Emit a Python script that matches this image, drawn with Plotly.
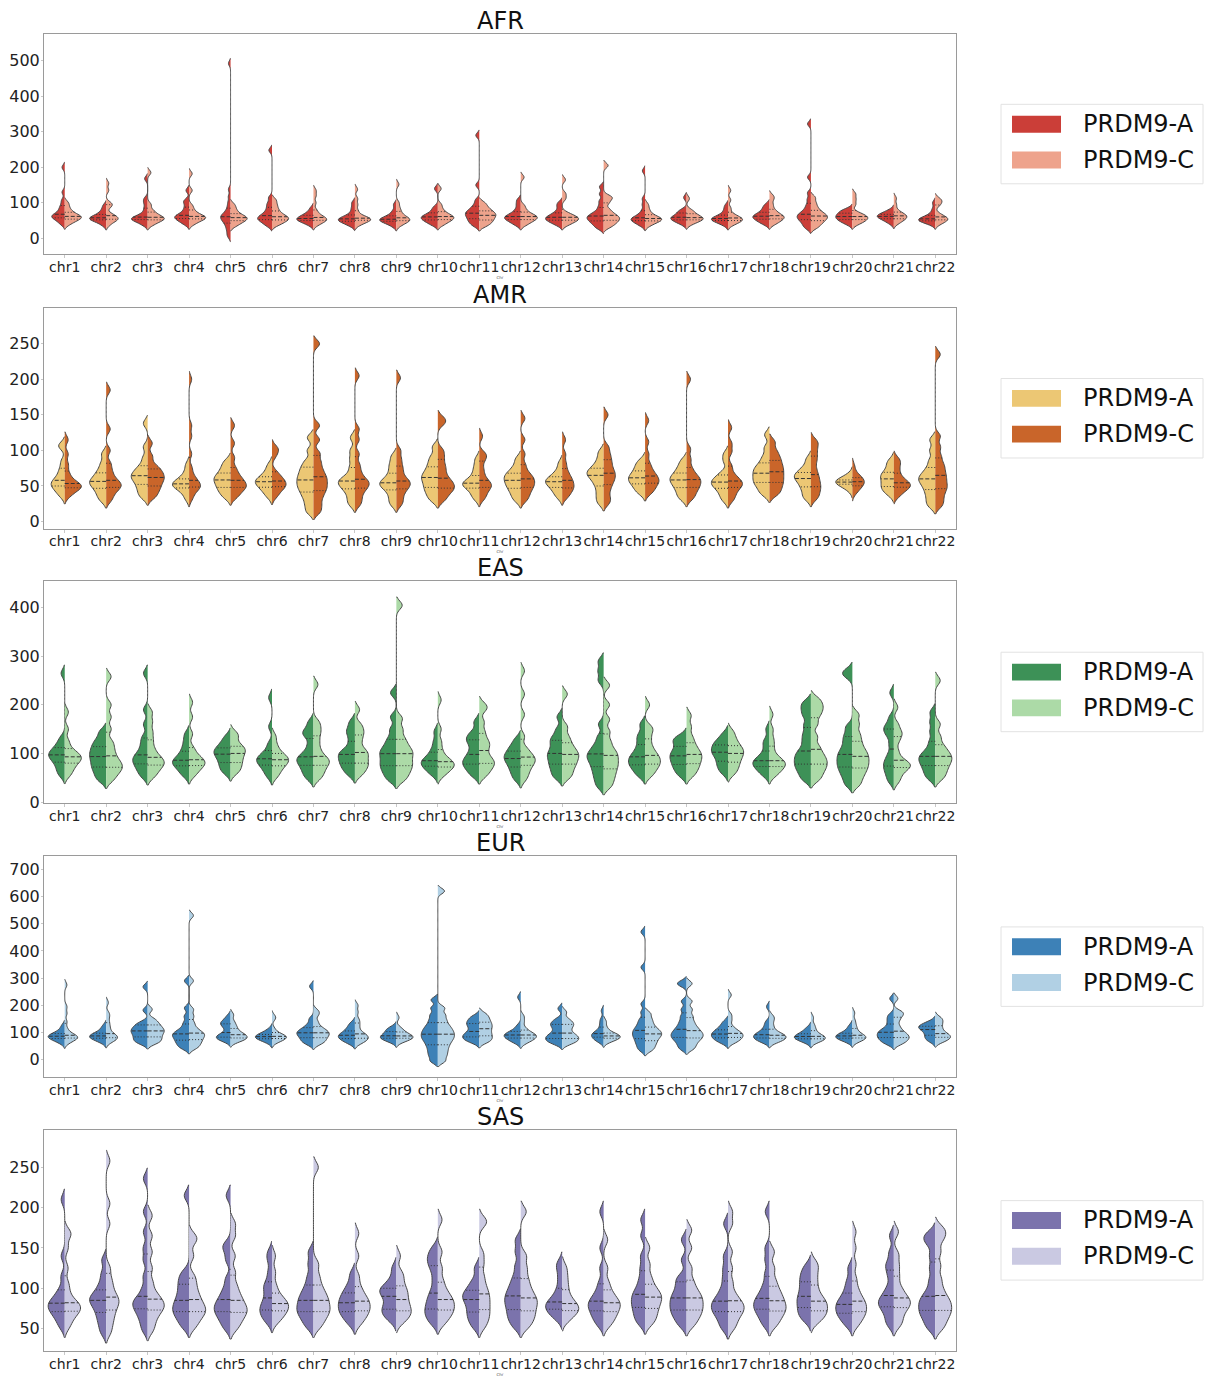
import numpy as np
import plotly.graph_objects as go
from plotly.subplots import make_subplots

chromosomes = ["chr1", "chr2", "chr3", "chr4", "chr5", "chr6", "chr7", "chr8", "chr9", "chr10", "chr11",
               "chr12", "chr13", "chr14", "chr15", "chr16", "chr17", "chr18", "chr19", "chr20", "chr21", "chr22"]
alleles = ["PRDM9-A", "PRDM9-C"]
populations = ["AFR", "AMR", "EAS", "EUR", "SAS"]

# ---------------- values (one list of samples per half-violin) ----------------
AFR_A = [
    [40, 48, 54, 57, 61, 64, 66, 70, 78, 85, 95, 108, 130, 200],
    [38, 46, 50, 53, 55, 57, 59, 62, 66, 72, 80, 92],
    [38, 45, 50, 53, 55, 57, 60, 64, 72, 85, 100, 112, 168],
    [40, 47, 52, 56, 59, 62, 65, 70, 78, 88, 100, 108, 135],
    [5, 15, 25, 33, 40, 46, 50, 54, 58, 61, 64, 68, 73, 80, 90, 102, 118, 138, 492],
    [35, 42, 48, 52, 55, 58, 62, 66, 72, 80, 90, 100, 115, 248],
    [38, 44, 48, 51, 53, 55, 57, 60, 64, 68, 74, 85],
    [36, 42, 46, 49, 52, 54, 56, 59, 64, 72, 85, 100],
    [35, 42, 46, 49, 51, 53, 55, 58, 62, 68, 78, 95],
    [38, 44, 49, 53, 56, 59, 62, 65, 70, 78, 88, 140],
    [35, 42, 48, 53, 58, 63, 67, 71, 75, 80, 86, 95, 108, 150, 290],
    [38, 45, 50, 54, 57, 60, 63, 67, 73, 82, 95, 108],
    [38, 44, 49, 52, 55, 58, 61, 65, 70, 78, 90, 100],
    [28, 36, 43, 48, 53, 57, 61, 65, 70, 78, 90, 105, 125, 145],
    [36, 42, 47, 50, 53, 55, 58, 62, 68, 78, 95, 112, 190],
    [40, 46, 50, 53, 56, 58, 61, 64, 70, 76, 80, 115],
    [38, 44, 48, 51, 53, 55, 57, 60, 64, 70, 80, 92],
    [40, 46, 51, 55, 58, 61, 64, 67, 72, 78, 86, 95],
    [28, 36, 43, 49, 54, 58, 62, 66, 70, 76, 84, 95, 110, 128, 172, 322],
    [40, 46, 50, 54, 57, 60, 63, 66, 70, 74, 78, 82],
    [42, 48, 53, 56, 59, 61, 63, 65, 67, 70, 74, 80],
    [40, 45, 48, 50, 52, 54, 56, 59, 63, 70, 82, 100],
]
AFR_C = [
    [40, 47, 52, 55, 58, 61, 63, 66, 72, 78, 88, 100],
    [38, 47, 51, 54, 57, 60, 64, 70, 88, 95, 100, 135, 155],
    [38, 45, 50, 53, 56, 58, 61, 66, 72, 80, 95, 185],
    [40, 47, 52, 55, 58, 60, 62, 66, 72, 80, 92, 135, 182],
    [35, 42, 47, 51, 54, 57, 60, 63, 68, 75, 84, 95],
    [38, 44, 49, 53, 56, 59, 63, 68, 75, 84, 95, 108],
    [38, 44, 48, 51, 54, 56, 59, 63, 70, 80, 100, 120, 135],
    [38, 44, 48, 51, 53, 55, 57, 60, 66, 78, 95, 112, 138],
    [36, 43, 47, 50, 52, 55, 58, 62, 68, 76, 86, 100, 152],
    [38, 45, 50, 54, 57, 60, 63, 67, 73, 82, 95, 140],
    [35, 42, 48, 53, 58, 63, 67, 71, 76, 82, 90, 100],
    [38, 45, 50, 54, 57, 60, 63, 66, 72, 80, 92, 172],
    [38, 44, 49, 52, 55, 58, 61, 65, 72, 112, 126, 165],
    [32, 40, 46, 51, 56, 60, 65, 72, 82, 100, 112, 118, 205],
    [36, 43, 47, 50, 53, 55, 57, 60, 65, 72, 82, 95],
    [40, 46, 50, 53, 55, 57, 60, 63, 68, 74, 80, 112],
    [38, 44, 48, 51, 53, 56, 59, 63, 70, 85, 108, 135],
    [40, 46, 51, 55, 58, 61, 64, 68, 74, 82, 95, 110, 120],
    [30, 38, 45, 50, 55, 59, 63, 67, 72, 79, 88, 100, 115],
    [40, 46, 50, 54, 57, 60, 63, 67, 73, 95, 110, 125],
    [42, 48, 53, 56, 59, 62, 65, 68, 72, 80, 95, 113],
    [40, 46, 50, 53, 56, 59, 62, 70, 92, 100, 106, 112],
]

AMR_A = [
    [36, 42, 46, 50, 52, 55, 58, 62, 68, 75, 85, 105, 108],
    [30, 37, 43, 48, 52, 55, 58, 62, 67, 73, 82, 95],
    [34, 40, 46, 51, 56, 60, 63, 66, 70, 74, 80, 90, 105, 138],
    [32, 40, 45, 48, 50, 52, 54, 56, 59, 63, 70, 80],
    [34, 40, 45, 49, 53, 57, 60, 63, 67, 72, 78, 85],
    [35, 41, 46, 49, 52, 55, 57, 59, 62, 66, 72, 80],
    [14, 24, 33, 40, 46, 51, 56, 61, 66, 72, 78, 86, 100, 118],
    [24, 32, 40, 46, 50, 54, 57, 60, 66, 76, 88, 100, 118],
    [24, 32, 40, 46, 50, 53, 56, 60, 66, 74, 82, 92],
    [30, 37, 43, 48, 53, 58, 62, 66, 71, 77, 84, 92, 105],
    [32, 38, 44, 48, 51, 53, 55, 58, 63, 70, 78, 88],
    [30, 37, 43, 48, 52, 56, 60, 63, 67, 71, 78, 88],
    [34, 40, 45, 49, 52, 55, 57, 59, 62, 66, 72, 82],
    [26, 34, 42, 50, 56, 61, 65, 68, 71, 75, 80, 88, 98],
    [40, 45, 50, 54, 57, 60, 63, 66, 70, 75, 80, 86],
    [32, 38, 44, 49, 53, 57, 60, 63, 67, 72, 78, 86],
    [30, 37, 43, 48, 51, 54, 57, 60, 64, 70, 85, 95],
    [38, 44, 50, 54, 58, 62, 66, 70, 74, 78, 84, 92, 104, 122],
    [32, 38, 45, 50, 55, 59, 62, 65, 68, 72, 78, 88],
    [44, 48, 51, 53, 54, 55, 56, 57, 58, 60, 62, 66],
    [38, 43, 47, 50, 54, 58, 62, 65, 68, 73, 80, 86],
    [22, 30, 38, 45, 51, 56, 60, 64, 69, 76, 86, 100, 115],
]
AMR_C = [
    [36, 42, 46, 48, 50, 52, 55, 60, 68, 80, 95, 115],
    [30, 38, 44, 48, 51, 54, 58, 64, 72, 82, 100, 130, 185],
    [34, 40, 46, 50, 55, 59, 62, 66, 70, 74, 80, 92, 110],
    [32, 40, 45, 48, 50, 53, 56, 60, 66, 76, 95, 120, 135, 200],
    [34, 40, 45, 48, 51, 54, 58, 62, 68, 76, 90, 110, 135],
    [35, 41, 46, 49, 51, 54, 57, 60, 64, 70, 92, 100, 104],
    [14, 24, 34, 42, 48, 54, 60, 66, 74, 84, 96, 115, 135, 250],
    [24, 32, 40, 46, 50, 54, 57, 62, 70, 80, 95, 115, 130, 205],
    [24, 32, 40, 46, 50, 54, 57, 62, 70, 78, 88, 100, 202],
    [30, 37, 43, 46, 50, 54, 58, 64, 72, 80, 90, 100, 138, 145],
    [32, 38, 44, 48, 51, 54, 58, 65, 74, 85, 92, 96, 120],
    [30, 37, 43, 48, 52, 56, 60, 64, 70, 80, 95, 115, 145],
    [34, 40, 45, 48, 52, 56, 60, 65, 72, 82, 95, 115],
    [26, 34, 44, 52, 58, 63, 68, 73, 80, 87, 95, 105, 150],
    [40, 45, 50, 54, 57, 60, 64, 68, 74, 82, 95, 112, 142],
    [32, 38, 44, 48, 52, 56, 59, 63, 68, 76, 88, 102, 200],
    [30, 37, 43, 48, 51, 54, 57, 61, 67, 78, 98, 110, 132],
    [38, 44, 50, 55, 60, 65, 70, 75, 80, 86, 92, 100, 112],
    [32, 38, 44, 49, 54, 60, 66, 74, 84, 92, 100, 108, 114],
    [40, 45, 48, 51, 53, 55, 57, 59, 61, 64, 68, 78],
    [36, 42, 46, 49, 51, 53, 56, 60, 66, 74, 82, 88],
    [22, 30, 38, 45, 50, 56, 62, 68, 75, 82, 92, 105, 120, 235],
]

EAS_A = [
    [55, 65, 74, 82, 88, 93, 97, 101, 106, 112, 120, 132, 265],
    [45, 56, 66, 74, 82, 90, 97, 104, 112, 120, 130, 145],
    [52, 62, 70, 77, 83, 88, 94, 100, 110, 122, 135, 160, 190, 265],
    [54, 63, 70, 76, 80, 84, 88, 94, 102, 112, 125, 140],
    [60, 68, 76, 83, 90, 96, 101, 105, 110, 116, 124, 135],
    [52, 62, 70, 76, 81, 85, 89, 93, 98, 106, 120, 155, 215],
    [48, 58, 66, 74, 80, 86, 90, 96, 104, 118, 135, 142, 150, 165],
    [56, 66, 73, 80, 86, 92, 98, 103, 110, 125, 140, 150, 165],
    [45, 56, 65, 73, 80, 88, 96, 103, 110, 120, 132, 150, 175, 225],
    [56, 64, 70, 75, 79, 83, 87, 92, 100, 110, 125, 145],
    [54, 64, 72, 78, 84, 90, 98, 108, 120, 128, 135, 145, 165],
    [46, 57, 66, 74, 81, 87, 92, 97, 103, 110, 118, 130],
    [50, 60, 70, 78, 86, 94, 100, 108, 118, 127, 135, 150, 175],
    [32, 45, 56, 66, 75, 83, 90, 96, 102, 110, 120, 135, 160, 250, 270, 290],
    [54, 64, 72, 78, 84, 90, 96, 104, 115, 128, 140, 160],
    [54, 64, 72, 79, 86, 92, 98, 104, 112, 122, 128, 135],
    [60, 70, 78, 86, 94, 100, 105, 110, 116, 122, 128, 140],
    [54, 62, 68, 73, 77, 81, 85, 89, 95, 105, 118, 128, 150],
    [46, 58, 68, 76, 84, 92, 100, 110, 125, 140, 158, 178, 192, 205],
    [36, 50, 61, 70, 78, 86, 94, 102, 112, 125, 138, 155, 260, 270],
    [42, 54, 64, 72, 80, 88, 100, 118, 135, 145, 152, 160, 175, 225],
    [48, 58, 67, 75, 82, 88, 94, 100, 110, 125, 145, 165, 185],
]
EAS_C = [
    [55, 65, 73, 80, 85, 89, 93, 97, 102, 110, 125, 150, 185],
    [45, 56, 64, 70, 76, 82, 90, 100, 112, 125, 150, 175, 200, 258],
    [52, 62, 70, 76, 81, 86, 92, 100, 112, 128, 145, 165, 185],
    [54, 63, 70, 75, 79, 83, 87, 92, 100, 112, 140, 175, 205],
    [60, 68, 76, 83, 90, 97, 103, 108, 113, 120, 134, 142],
    [52, 62, 70, 76, 81, 85, 89, 93, 98, 106, 118, 135],
    [48, 58, 66, 74, 80, 85, 90, 98, 110, 125, 140, 152, 165, 242],
    [56, 66, 74, 80, 88, 96, 102, 110, 125, 138, 148, 160, 190],
    [45, 56, 65, 73, 80, 88, 96, 103, 110, 120, 132, 150, 172, 405],
    [54, 62, 68, 72, 76, 79, 83, 88, 95, 108, 125, 150, 210],
    [54, 64, 72, 78, 84, 90, 100, 112, 120, 130, 145, 165, 190, 200],
    [46, 57, 66, 74, 80, 85, 90, 95, 102, 112, 135, 180, 222, 270],
    [50, 60, 70, 78, 85, 92, 98, 104, 112, 122, 135, 155, 222],
    [32, 45, 56, 66, 75, 83, 92, 100, 110, 125, 145, 170, 200, 240],
    [54, 64, 72, 78, 84, 90, 96, 104, 115, 130, 145, 155, 200],
    [54, 64, 72, 79, 86, 92, 98, 104, 112, 122, 135, 155, 178],
    [58, 68, 76, 84, 91, 97, 103, 108, 114, 122, 132, 145],
    [54, 62, 68, 73, 77, 81, 85, 90, 100, 115, 130, 150, 180],
    [46, 58, 68, 76, 84, 92, 102, 115, 135, 160, 178, 190, 200, 212],
    [36, 50, 61, 70, 78, 86, 94, 102, 112, 125, 140, 160, 180],
    [42, 54, 64, 70, 74, 78, 82, 90, 105, 125, 138, 145, 160, 195],
    [48, 58, 67, 75, 82, 88, 94, 100, 108, 118, 135, 160, 250],
]

EUR_A = [
    [62, 70, 75, 79, 82, 85, 88, 91, 95, 100, 110, 125],
    [64, 71, 76, 80, 83, 86, 89, 92, 96, 102, 112, 125],
    [60, 68, 76, 84, 92, 100, 106, 112, 120, 128, 138, 182, 268],
    [42, 52, 62, 70, 78, 86, 92, 98, 106, 118, 136, 160, 190, 290],
    [68, 74, 79, 83, 87, 92, 100, 115, 125, 132, 138, 145, 160],
    [64, 70, 75, 78, 81, 84, 86, 89, 92, 96, 102, 112],
    [58, 66, 74, 81, 88, 94, 99, 104, 110, 118, 130, 150, 270],
    [60, 68, 74, 79, 84, 88, 92, 97, 104, 112, 122, 135],
    [66, 72, 76, 80, 83, 86, 90, 95, 102, 108, 113, 120],
    [-5, 15, 32, 48, 62, 74, 84, 94, 104, 115, 128, 145, 165, 190, 220],
    [64, 72, 78, 84, 90, 96, 104, 115, 125, 133, 140, 150, 160],
    [62, 70, 76, 81, 85, 89, 93, 97, 102, 110, 125, 230],
    [58, 66, 72, 78, 84, 90, 98, 110, 122, 130, 138, 150, 188],
    [66, 72, 78, 83, 88, 92, 96, 100, 108, 120, 135, 150, 180],
    [35, 48, 60, 70, 80, 88, 96, 104, 112, 122, 135, 150, 175, 205, 340, 470],
    [40, 55, 68, 78, 86, 94, 102, 112, 124, 140, 160, 185, 215, 275, 285],
    [62, 70, 76, 82, 87, 92, 97, 102, 108, 116, 126, 140],
    [64, 70, 75, 80, 84, 88, 92, 97, 103, 112, 125, 140, 195],
    [64, 70, 74, 78, 81, 84, 87, 90, 94, 100, 108, 118],
    [66, 72, 76, 80, 83, 86, 89, 92, 96, 102, 112, 125],
    [58, 66, 74, 80, 86, 92, 98, 104, 110, 120, 135, 150, 165, 225],
    [68, 76, 84, 92, 100, 108, 114, 118, 122, 126, 132, 140],
]
EUR_C = [
    [62, 70, 75, 79, 82, 85, 88, 92, 100, 115, 140, 170, 195, 275],
    [64, 71, 76, 80, 84, 88, 92, 100, 112, 125, 140, 158, 172, 210],
    [60, 68, 76, 84, 92, 100, 106, 112, 120, 128, 138, 150, 185],
    [42, 52, 62, 70, 78, 86, 92, 98, 106, 118, 136, 160, 185, 290, 530],
    [66, 72, 76, 80, 84, 88, 92, 97, 104, 115, 125, 140, 165],
    [64, 70, 75, 78, 81, 84, 86, 89, 93, 100, 115, 150, 160],
    [58, 66, 74, 81, 88, 94, 99, 105, 112, 122, 140, 165, 180],
    [60, 68, 74, 79, 84, 89, 95, 104, 120, 135, 150, 175, 200],
    [66, 72, 76, 80, 83, 86, 89, 93, 100, 108, 118, 155],
    [-5, 15, 32, 48, 62, 74, 84, 94, 104, 115, 128, 145, 165, 190, 620],
    [64, 72, 80, 88, 96, 105, 114, 122, 130, 138, 148, 158, 170],
    [62, 70, 76, 81, 85, 89, 93, 98, 106, 118, 140, 160],
    [58, 66, 72, 78, 84, 90, 98, 110, 122, 130, 138, 150, 175],
    [66, 72, 76, 80, 83, 86, 89, 92, 96, 104, 118, 140],
    [35, 48, 60, 70, 80, 88, 95, 102, 110, 120, 134, 150, 170],
    [40, 55, 68, 78, 86, 94, 102, 112, 124, 140, 160, 185, 215, 280],
    [62, 70, 76, 82, 87, 92, 97, 102, 110, 122, 145, 165, 238],
    [64, 70, 75, 80, 84, 88, 92, 98, 108, 125, 145, 160],
    [64, 70, 74, 78, 81, 84, 88, 94, 104, 116, 130, 155],
    [66, 72, 76, 80, 83, 86, 90, 95, 104, 115, 128, 145, 172],
    [58, 66, 74, 80, 86, 92, 100, 110, 125, 145, 160, 170, 178, 225],
    [66, 72, 78, 84, 88, 92, 100, 110, 122, 134, 145, 155],
]

SAS_A = [
    [52, 60, 66, 70, 74, 77, 80, 83, 87, 92, 100, 115, 140, 210],
    [45, 55, 63, 70, 76, 81, 85, 88, 92, 98, 106, 118, 135],
    [48, 58, 66, 72, 77, 81, 85, 90, 100, 115, 135, 150, 170, 195, 236],
    [52, 60, 66, 71, 75, 80, 85, 91, 98, 105, 112, 120, 215],
    [50, 58, 64, 69, 73, 77, 81, 86, 92, 100, 112, 135, 148, 155, 215],
    [58, 64, 69, 73, 77, 82, 88, 96, 102, 108, 120, 135, 145],
    [52, 60, 66, 71, 75, 80, 85, 90, 96, 104, 115, 130, 145],
    [56, 63, 68, 72, 76, 80, 84, 88, 93, 98, 106, 118],
    [60, 66, 70, 74, 78, 84, 90, 94, 97, 100, 104, 112, 125],
    [56, 63, 68, 73, 78, 84, 90, 98, 110, 122, 130, 136, 142, 150],
    [52, 60, 66, 72, 78, 84, 88, 92, 96, 102, 110, 125],
    [52, 60, 66, 72, 78, 83, 88, 93, 99, 106, 115, 128, 145, 160],
    [62, 67, 71, 74, 77, 80, 83, 86, 92, 100, 112, 124, 132],
    [54, 61, 66, 71, 75, 79, 82, 86, 91, 98, 108, 125, 150, 195],
    [56, 63, 69, 75, 80, 85, 90, 95, 102, 112, 125, 140, 165, 185],
    [54, 62, 68, 73, 78, 83, 88, 93, 100, 108, 115, 135, 160],
    [50, 58, 65, 70, 74, 78, 82, 86, 92, 100, 112, 125, 140, 180],
    [54, 62, 68, 73, 77, 81, 85, 90, 96, 105, 118, 135, 150, 195],
    [60, 66, 71, 76, 81, 86, 90, 96, 102, 108, 114, 120, 128],
    [54, 61, 66, 70, 74, 78, 82, 86, 92, 100, 110, 125],
    [54, 62, 70, 76, 80, 84, 88, 94, 102, 115, 125, 132, 145, 165],
    [50, 58, 65, 70, 75, 80, 85, 90, 98, 110, 125, 140, 155, 162, 168],
]
SAS_C = [
    [52, 60, 66, 70, 73, 76, 79, 82, 86, 95, 106, 125, 150, 165, 170],
    [45, 55, 63, 70, 76, 81, 85, 89, 95, 103, 112, 125, 180, 205, 258],
    [48, 58, 66, 72, 76, 80, 84, 89, 96, 108, 125, 145, 165, 190],
    [52, 60, 66, 70, 74, 78, 83, 89, 96, 105, 115, 140, 158, 165],
    [50, 58, 64, 69, 73, 77, 82, 88, 95, 105, 120, 140, 165, 180],
    [58, 64, 68, 72, 75, 78, 81, 84, 88, 94, 104, 120, 140],
    [52, 60, 66, 71, 75, 80, 85, 90, 96, 104, 115, 130, 250],
    [56, 63, 68, 72, 76, 80, 84, 88, 94, 102, 115, 140, 168],
    [58, 64, 68, 72, 76, 81, 86, 92, 97, 103, 112, 120, 140],
    [56, 63, 68, 72, 76, 80, 84, 88, 93, 100, 110, 125, 145, 185],
    [52, 60, 66, 72, 78, 84, 90, 96, 104, 115, 130, 143, 180, 185],
    [52, 60, 66, 72, 78, 83, 88, 94, 102, 112, 125, 140, 195],
    [60, 66, 70, 73, 76, 79, 83, 88, 96, 105, 115, 126],
    [54, 61, 66, 71, 75, 79, 82, 86, 91, 98, 108, 125, 160],
    [56, 63, 69, 75, 80, 85, 89, 93, 98, 105, 115, 130, 150],
    [54, 62, 68, 73, 78, 83, 88, 93, 100, 110, 125, 150, 172],
    [50, 58, 65, 70, 74, 78, 82, 87, 95, 108, 125, 145, 180, 195],
    [54, 62, 68, 73, 77, 82, 87, 93, 100, 110, 125, 145],
    [58, 64, 68, 72, 76, 80, 84, 88, 95, 104, 114, 124, 132],
    [54, 61, 66, 70, 74, 78, 82, 86, 92, 100, 112, 130, 150, 170],
    [54, 62, 70, 76, 80, 84, 88, 94, 102, 115, 128, 142, 170],
    [50, 58, 65, 70, 75, 80, 85, 91, 100, 112, 128, 145, 160, 168, 175],
]

y_tickvals = {
    "AFR": [0, 100, 200, 300, 400, 500],
    "AMR": [0, 50, 100, 150, 200, 250],
    "EAS": [0, 100, 200, 300, 400],
    "EUR": [0, 100, 200, 300, 400, 500, 600, 700],
    "SAS": [50, 100, 150, 200, 250],
}

# ---------------- styling / layout ----------------
data = {"AFR": (AFR_A, AFR_C), "AMR": (AMR_A, AMR_C), "EAS": (EAS_A, EAS_C),
        "EUR": (EUR_A, EUR_C), "SAS": (SAS_A, SAS_C)}
colors = {
    "AFR": ("#cb3e38", "#eea38c"),
    "AMR": ("#ecc774", "#c9652a"),
    "EAS": ("#3d9157", "#acdaa7"),
    "EUR": ("#3d81b7", "#b1d0e4"),
    "SAS": ("#7b73ac", "#cac9e2"),
}
bandwidth = {"AFR": 7.0, "AMR": 5.5, "EAS": 8.5, "EUR": 10.0, "SAS": 6.5}
y_ranges = {"AFR": [-44.7, 575.4], "AMR": [-9.8, 300.3], "EAS": [-1.5, 454.6],
            "EUR": [-63.2, 747.6], "SAS": [22.0, 296.8]}

W, H = 1206, 1381
X_LEFT, X_RIGHT = 44, 956
TOPS = [34, 310, 585, 862, 1137]
BOTTOMS = [256, 532, 808, 1084, 1360]
EDGE = "#474747"
QLINE = "#333333"
HALF = 0.4  # half width of a violin (category units)
FONT = "DejaVu Sans"


def px_x(x):
    return x / W


def px_y(y):
    return 1 - y / H


def kde(vals, bw, t):
    t = np.atleast_1d(np.asarray(t, float))
    u = (t[:, None] - vals[None, :]) / bw
    return np.exp(-0.5 * u * u).sum(axis=1) / (len(vals) * bw * np.sqrt(2 * np.pi))


def plotly_max_kde(vals, bw):
    lo, hi = vals.min() - 2 * bw, vals.max() + 2 * bw
    n = int(np.ceil((hi - lo) / (bw / 3)))
    step = (hi - lo) / n
    grid = lo + step * np.arange(n + 1)
    return kde(vals, bw, grid).max()


fig = make_subplots(rows=5, cols=1)

for r, pop in enumerate(populations, start=1):
    A, C = data[pop]
    bw = bandwidth[pop]
    med_x, med_y, q_x, q_y = [], [], [], []
    for i, chrom in enumerate(chromosomes):
        halves = [(np.array(A[i], float), "negative", colors[pop][0], alleles[0]),
                  (np.array(C[i], float), "positive", colors[pop][1], alleles[1])]
        gmax = max(plotly_max_kde(v, bw) for v, _, _, _ in halves)
        for vals, side, col, name in halves:
            fig.add_trace(go.Violin(
                y=vals, x0=i, name=name, side=side, orientation="v",
                scalegroup=f"{pop}-{chrom}", scalemode="width",
                bandwidth=bw, spanmode="soft",
                fillcolor=col, line=dict(color=EDGE, width=1), opacity=1,
                points=False, box_visible=False, meanline_visible=False,
                showlegend=False, hoverinfo="skip",
            ), row=r, col=1)
            sgn = -1 if side == "negative" else 1
            q1, q2, q3 = np.percentile(vals, [25, 50, 75])
            for q, xs, ys in ((q1, q_x, q_y), (q2, med_x, med_y), (q3, q_x, q_y)):
                w = kde(vals, bw, q)[0] / gmax * HALF
                xs += [i, i + sgn * w, None]
                ys += [q, q, None]
    fig.add_trace(go.Scatter(x=med_x, y=med_y, mode="lines", showlegend=False, hoverinfo="skip",
                             line=dict(color=QLINE, width=1, dash="4px,2px")), row=r, col=1)
    fig.add_trace(go.Scatter(x=q_x, y=q_y, mode="lines", showlegend=False, hoverinfo="skip",
                             line=dict(color=QLINE, width=1, dash="1px,2px")), row=r, col=1)

layout_axes = {}
annotations = []
shapes = []
for k, pop in enumerate(populations):
    sfx = "" if k == 0 else str(k + 1)
    top, bot = TOPS[k], BOTTOMS[k]
    layout_axes["xaxis" + sfx] = dict(
        domain=[px_x(X_LEFT), px_x(X_RIGHT)], type="linear", range=[-0.5, 21.5],
        tickmode="array", tickvals=list(range(len(chromosomes))), ticktext=chromosomes,
        tickangle=0, ticks="outside", ticklen=3, tickcolor="#c8c8c8", ticklabelstandoff=-3,
        showgrid=False, zeroline=False,
        showline=True, mirror=True, linecolor="#9a9a9a", linewidth=1,
        tickfont=dict(family=FONT, size=14, color="#222222"),
        title=dict(text="Chr", font=dict(family=FONT, size=4, color="#555555"), standoff=0),
    )
    layout_axes["yaxis" + sfx] = dict(
        domain=[px_y(bot), px_y(top)], range=y_ranges[pop],
        tickmode="array", tickvals=y_tickvals[pop],
        ticks="outside", ticklen=2, tickcolor="#c8c8c8", ticklabelstandoff=-2,
        showgrid=False, zeroline=False,
        showline=True, mirror=True, linecolor="#9a9a9a", linewidth=1,
        tickfont=dict(family=FONT, size=16, color="#222222"),
    )
    annotations.append(dict(text=pop, x=px_x((X_LEFT + X_RIGHT) / 2), y=px_y(top + 3),
                            xref="paper", yref="paper", xanchor="center", yanchor="bottom",
                            showarrow=False, font=dict(family=FONT, size=24, color="#111111")))
    # legend box for this panel
    c = (top + bot) / 2
    shapes.append(dict(type="rect", xref="paper", yref="paper",
                       x0=px_x(1001), x1=px_x(1203), y0=px_y(c + 40), y1=px_y(c - 40),
                       line=dict(color="#e2e2e2", width=1), fillcolor="white", layer="above"))
    for j, dy in enumerate((-20, 16)):
        shapes.append(dict(type="rect", xref="paper", yref="paper",
                           x0=px_x(1012), x1=px_x(1061), y0=px_y(c + dy + 8.5), y1=px_y(c + dy - 8.5),
                           line=dict(width=0), fillcolor=colors[pop][j], layer="above"))
        annotations.append(dict(text=alleles[j], x=px_x(1081), y=px_y(c + dy),
                                xref="paper", yref="paper", xanchor="left", yanchor="middle",
                                showarrow=False, font=dict(family=FONT, size=24, color="#111111")))

fig.update_layout(
    width=W, height=H, autosize=False,
    margin=dict(l=0, r=0, t=0, b=0),
    paper_bgcolor="white", plot_bgcolor="white",
    violinmode="overlay", violingap=0.2, violingroupgap=0,
    showlegend=False,
    annotations=annotations, shapes=shapes,
    font=dict(family=FONT),
    **layout_axes,
)

fig.write_html(
    "out.html",
    post_script=("document.documentElement.style.margin='0';document.body.style.margin='0';"
                 "document.documentElement.style.overflow='hidden';document.body.style.overflow='hidden';"),
)
